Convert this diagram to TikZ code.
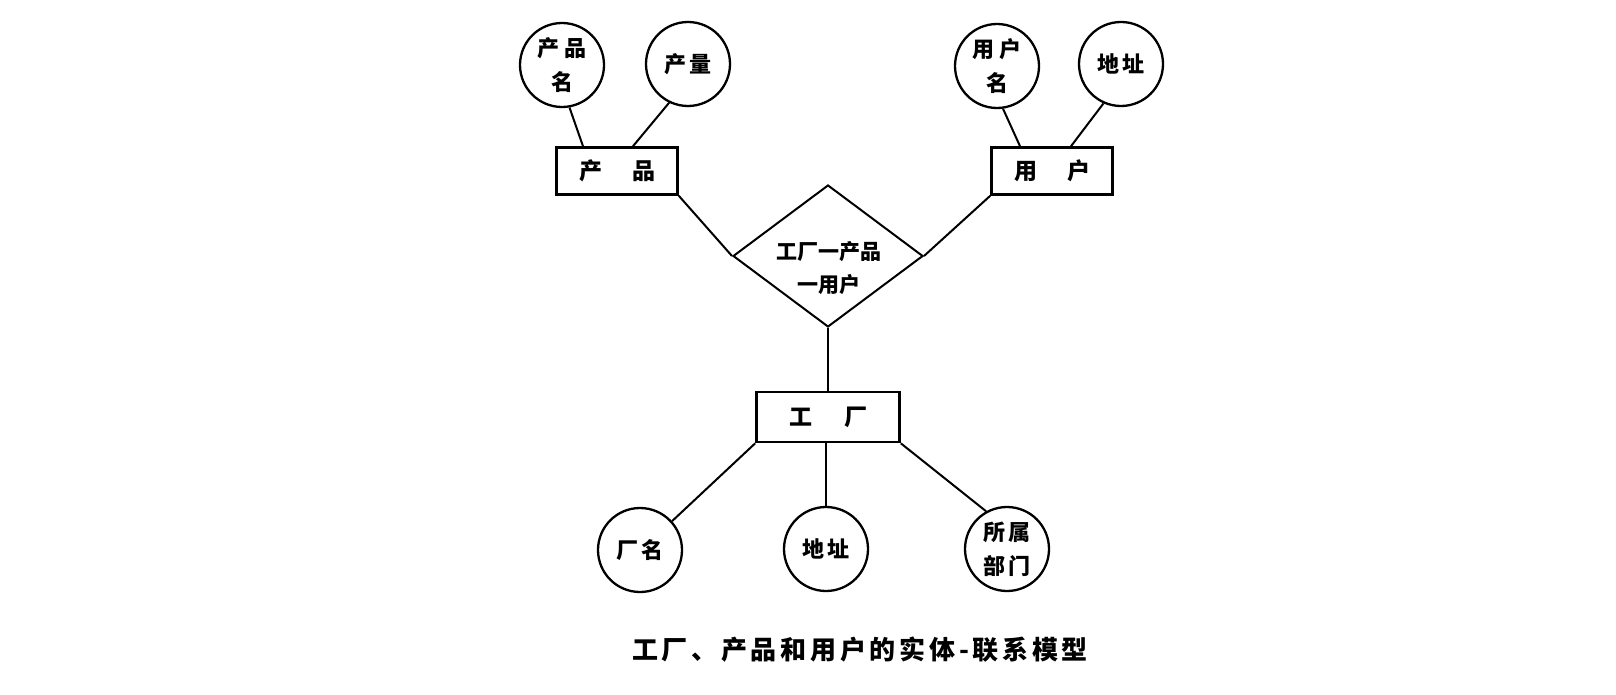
\documentclass[tikz,border=0pt]{standalone}
\usepackage{fontspec}
\newfontfamily\cjk{Noto Sans CJK SC}
\usetikzlibrary{shapes.geometric}
\begin{document}
\begin{tikzpicture}[x=1pt,y=-1pt,
  lab/.style={font=\cjk\bfseries\fontsize{22}{34}\selectfont,align=center},
  attr/.style={circle,draw,line width=2.3pt,minimum size=84pt,inner sep=0pt,lab},
  ent/.style={draw,line width=2.6pt,minimum width=121pt,minimum height=47pt,inner sep=0pt,lab,font=\cjk\bfseries\fontsize{23}{30}\selectfont},
  rel/.style={diamond,draw,line width=2pt,minimum width=190pt,minimum height=142pt,inner sep=0pt},
  conn/.style={line width=2pt}]
\useasboundingbox (0,0) rectangle (1616,695);
% attributes of product
\node[attr] (pm) at (562,65) {产\hspace{5pt}品\\名};
\node[attr] (pq) at (688,64) {产\hspace{4pt}量};
% attributes of user
\node[attr] (um) at (997,66) {用\hspace{5pt}户\\名};
\node[attr] (ua) at (1121,64) {地\hspace{3pt}址};
% entities
\node[ent] (cp) at (617,171) {产\hspace{30pt}品};
\node[ent] (yh) at (1052,171) {用\hspace{30pt}户};
\node[ent,minimum width=143pt,minimum height=50pt] (gc) at (828,417) {工\hspace{32pt}厂};
% relationship
\node[rel] (r) at (828,256) {};
\node[lab,font=\cjk\bfseries\fontsize{21}{33}\selectfont] (rt) at (829,268) {工厂一产品\\一用户};
% attributes of factory
\node[attr] (fm) at (640,550) {厂\hspace{4pt}名};
\node[attr] (fa) at (826,549) {地\hspace{3pt}址};
\node[attr] (fd) at (1007,549) {所\hspace{3pt}属\\部\hspace{3pt}门};
% connectors
\draw[conn] (pm.-80) -- ([xshift=-34pt]cp.north);
\draw[conn] (pq.-116) -- ([xshift=16pt]cp.north);
\draw[conn] (um.-82) -- ([xshift=-32pt]yh.north);
\draw[conn] (ua.-114) -- ([xshift=19pt]yh.north);
\draw[conn] (cp.south east) -- (r.west);
\draw[conn] (yh.south west) -- (r.east);
\draw[conn] (r.south) -- (gc.north);
\draw[conn] (gc.south west) -- (fm.42);
\draw[conn] ([xshift=-2pt]gc.south) -- (fa.north);
\draw[conn] (gc.south east) -- (fd.119);
% caption
\node[font=\cjk\bfseries\fontsize{26}{30}\selectfont] (cap) at (860,650)
  {\makebox[456pt]{工\hfill 厂\hfill 、\hfill 产\hfill 品\hfill 和\hfill 用\hfill 户\hfill 的\hfill 实\hfill 体\hfill -\hfill 联\hfill 系\hfill 模\hfill 型}};
\end{tikzpicture}
\end{document}
